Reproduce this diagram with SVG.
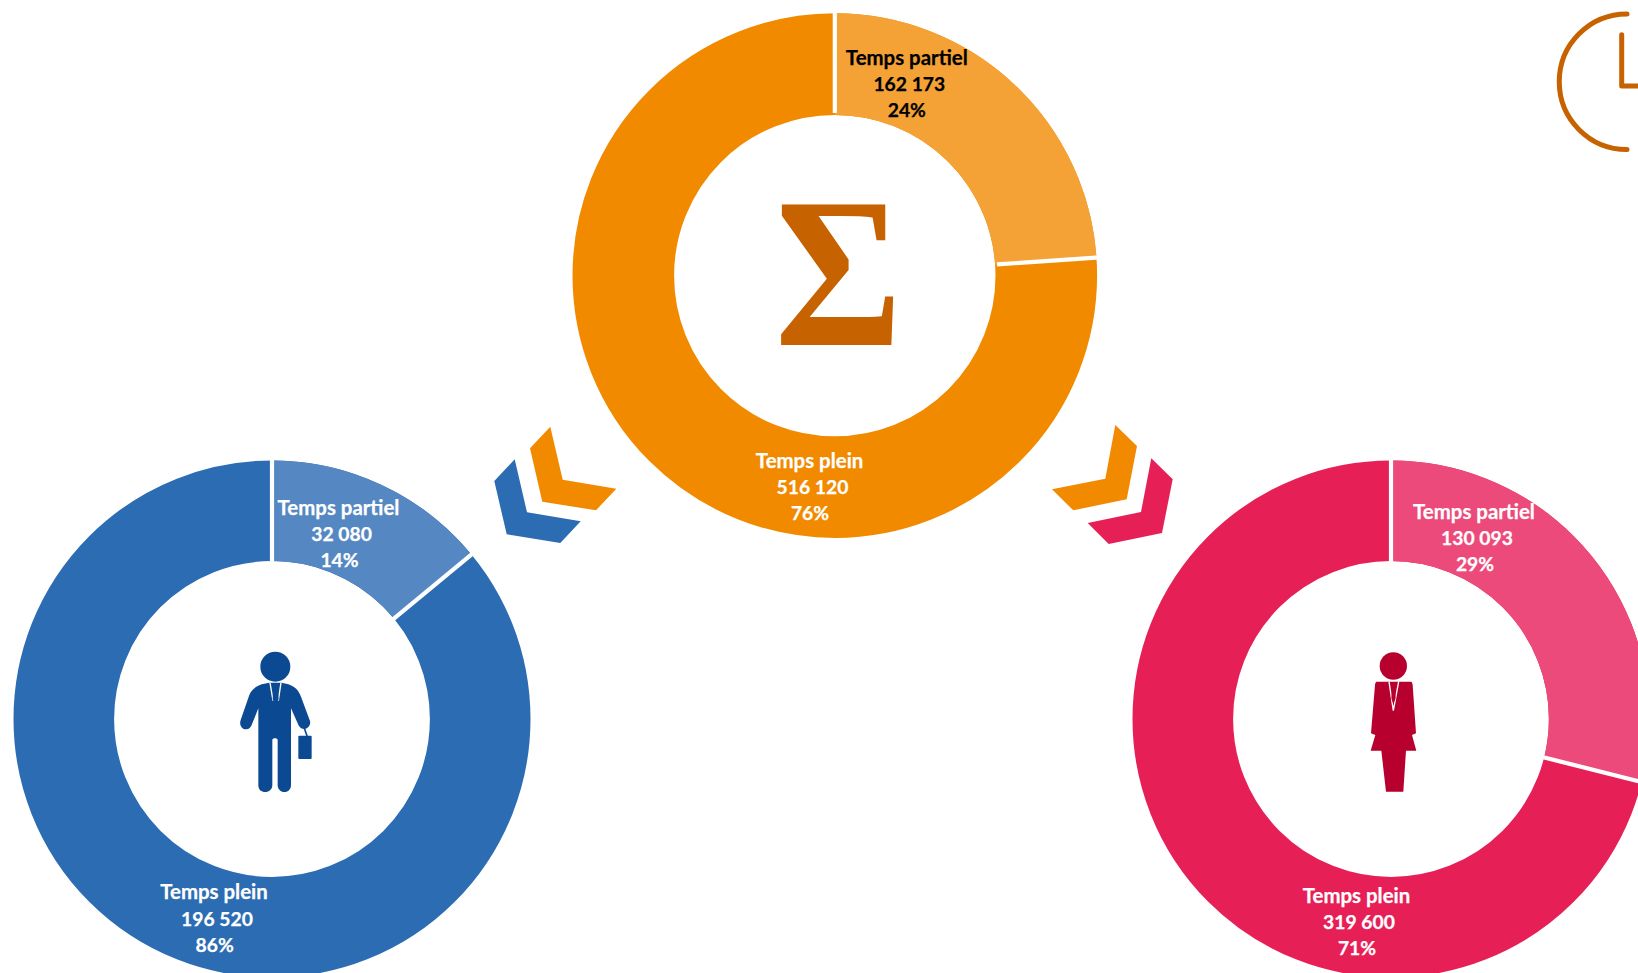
<svg xmlns="http://www.w3.org/2000/svg" width="1638" height="973" viewBox="0 0 1638 973">
<style>
.lbl{font-family:"Lato","Open Sans","Liberation Sans",sans-serif;font-weight:700;font-size:19.3px;text-anchor:middle;fill:#fff;stroke:#fff;stroke-width:.25}
.cap{font-size:20.4px}
.dark{fill:#000;stroke:#000}
.sep{stroke:#fff;stroke-width:4.2;fill:none}
.ring{fill:none}
</style>
<rect width="1638" height="973" fill="#fff"/>
<g id="connectors">
<polygon fill="#F28A00" points="550.3,426.7 530,448.3 542.3,501.7 596,510.3 616.3,488.7 562.7,479.7"/>
<polygon fill="#2B6CB3" points="514.7,459.3 494.3,481 506.7,534.3 560.3,543 580.7,521.3 527,512.3"/>
<polygon fill="#F28A00" points="1115.3,425 1137,446 1126.7,499.3 1073.3,510.3 1052,489.3 1105.3,478.7"/>
<polygon fill="#E71F57" points="1151.3,458.3 1172.7,479.3 1162,533 1108.7,544 1087.7,523 1141,512"/>
</g>
<g id="node-total">
<circle class="ring" cx="834.8" cy="275.6" r="211.5" stroke="#F28A00" stroke-width="101.6"/>
<circle class="ring" cx="834.8" cy="275.6" r="211.5" stroke="#F4A235" stroke-width="101.6" pathLength="360" stroke-dasharray="86.07 360" transform="rotate(-90 834.8 275.6)"/>
<line class="sep" x1="834.8" y1="113" x2="834.8" y2="10"/>
<line class="sep" x1="834.8" y1="113" x2="834.8" y2="10" transform="rotate(86.07 834.8 275.6)"/>
<text transform="translate(838.5 344.6) scale(1 1.093)" text-anchor="middle" style="font-family:'Liberation Serif',serif;font-weight:700;font-size:195px;fill:#C66200">Σ</text>
<text class="lbl cap dark" x="906.8" y="65">Temps partiel</text>
<text class="lbl dark" x="909.3" y="91">162 173</text>
<text class="lbl dark" x="906.8" y="117">24%</text>
<text class="lbl cap" x="809.6" y="468">Temps plein</text>
<text class="lbl" x="812.5" y="494">516 120</text>
<text class="lbl" x="810" y="520">76%</text>
</g>
<g id="node-men">
<circle class="ring" cx="272" cy="719" r="208.2" stroke="#2B6CB3" stroke-width="100.6"/>
<circle class="ring" cx="272" cy="719" r="208.2" stroke="#5588C2" stroke-width="100.6" pathLength="360" stroke-dasharray="50.5 360" transform="rotate(-90 272 719)"/>
<line class="sep" x1="272" y1="563" x2="272" y2="456"/>
<line class="sep" x1="272" y1="563" x2="272" y2="456" transform="rotate(50.5 272 719)"/>
<g transform="translate(220 640) scale(.3333)" fill="#0B4A92">
<circle cx="166" cy="80" r="45"/>
<path d="M125 133C105 140 95 150 88 165L62 240C57 255 65 268 78 268C88 268 93 262 97 250L115 205L115 435C115 450 125 456 135 456C148 456 157 448 157 435L157 300C157 293 173 293 173 300L173 435C173 448 182 456 193 456C205 456 213 448 213 435L213 205L233 250C238 262 243 267 252 267C264 267 273 255 270 243L243 170C235 150 225 140 205 133L185 128L148 128Z"/>
<path d="M150 128L159 182M183 128L175 182" stroke="#fff" stroke-width="4" fill="none"/>
<path d="M155 130L178 130L173 146L176 178L167 190L158 178L160 146Z"/>
<path d="M238 287L272 287Q275 287 275 290L275 354Q275 357 272 357L238 357Q235 357 235 354L235 290Q235 287 238 287Z"/>
<path d="M252 262L262 290" stroke="#0B4A92" stroke-width="5" fill="none"/>
</g>
<text class="lbl cap" x="338.5" y="515">Temps partiel</text>
<text class="lbl" x="341.6" y="541">32 080</text>
<text class="lbl" x="339.5" y="567">14%</text>
<text class="lbl cap" x="214" y="898.5">Temps plein</text>
<text class="lbl" x="217" y="925.5">196 520</text>
<text class="lbl" x="214.7" y="951.6">86%</text>
</g>
<g id="node-women">
<circle class="ring" cx="1391" cy="719" r="208.2" stroke="#E71F57" stroke-width="100.6"/>
<circle class="ring" cx="1391" cy="719" r="208.2" stroke="#EC4A7A" stroke-width="100.6" pathLength="360" stroke-dasharray="104.1 360" transform="rotate(-90 1391 719)"/>
<line class="sep" x1="1391" y1="563" x2="1391" y2="456"/>
<line class="sep" x1="1391" y1="563" x2="1391" y2="456" transform="rotate(104.1 1391 719)"/>
<g transform="translate(1350 640) scale(.3333)" fill="#B8002F">
<circle cx="130" cy="78" r="41"/>
<path d="M80 125L182 125C187 125 187 130 188 135L198 280L186 285L199 332L168 332L160 455L108 455L94 332L62 332L76 285L63 280L75 135C76 128 78 125 80 125Z"/>
<path d="M117 125L130 212L146 125" stroke="#fff" stroke-width="4" fill="none"/>
<path d="M121 127L139 127L134 141L137 175L130 192L124 175L127 141Z"/>
</g>
<text class="lbl cap" x="1474" y="519">Temps partiel</text>
<text class="lbl" x="1477" y="545">130 093</text>
<text class="lbl" x="1475" y="571">29%</text>
<text class="lbl cap" x="1356.5" y="902.5">Temps plein</text>
<text class="lbl" x="1359" y="928.7">319 600</text>
<text class="lbl" x="1357" y="955">71%</text>
</g>
<g id="node-clock" fill="none" stroke="#C66200" stroke-linecap="round" stroke-linejoin="round">
<path d="M1627 14A67 67 0 0 0 1627 149.5" stroke-width="5"/>
<path d="M1621.7 34.7L1621.7 86L1645 86" stroke-width="5"/>
</g>
</svg>
